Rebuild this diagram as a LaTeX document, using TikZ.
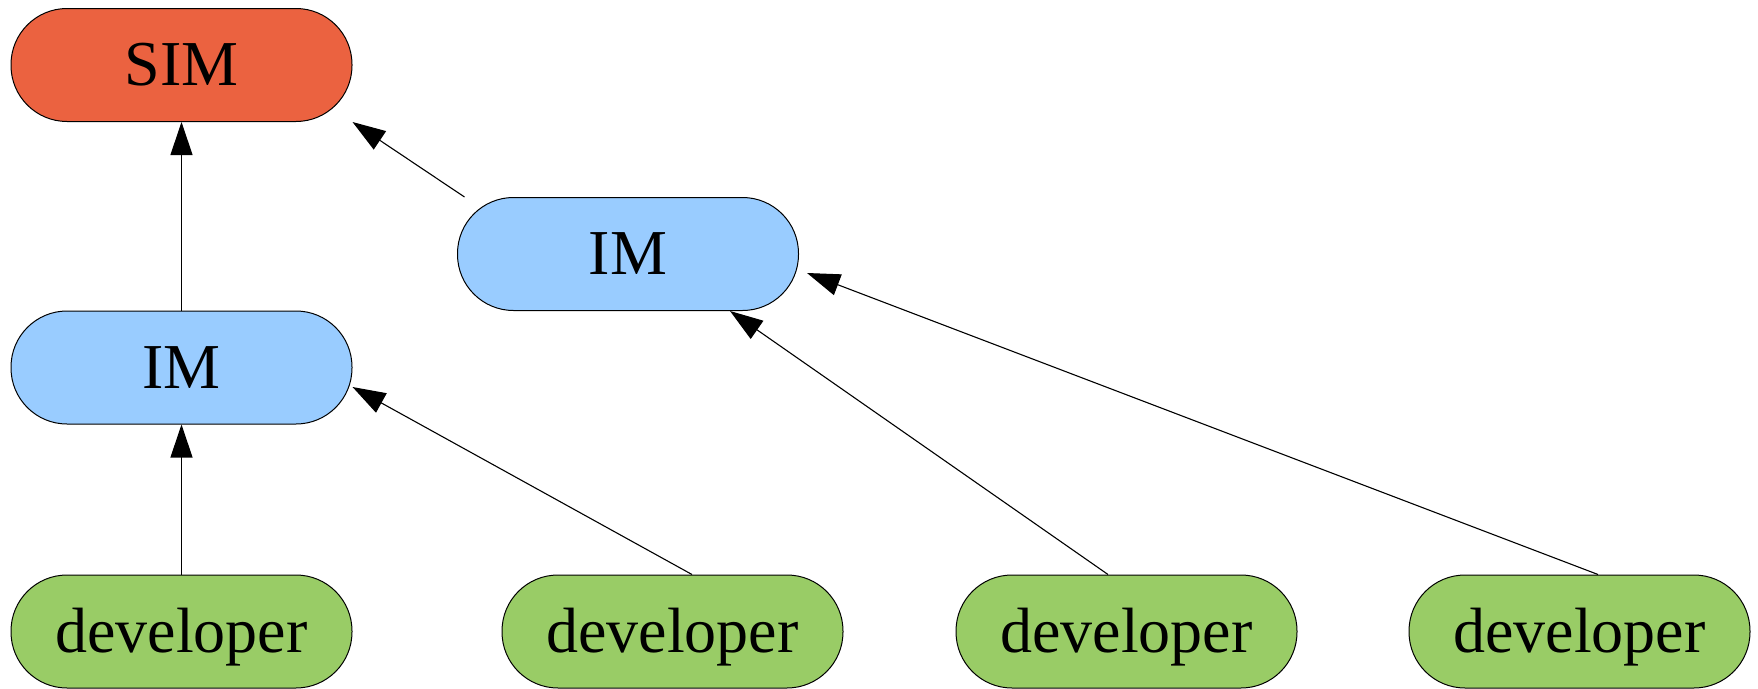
\documentclass[tikz,border=0pt]{standalone}
\usepackage{fontspec}
\setmainfont{Liberation Serif}
\usetikzlibrary{arrows.meta}
\definecolor{simred}{HTML}{EB6240}
\definecolor{imblue}{HTML}{99CCFF}
\definecolor{devgreen}{HTML}{99CC66}
\begin{document}
\begin{tikzpicture}[x=1pt,y=-1pt,
  pill/.style={draw=black,line width=1pt,rounded corners=56pt,minimum width=341pt,minimum height=113pt,
    inner sep=0pt,text height=55pt,text depth=14pt,font=\fontsize{64}{70}\selectfont},
  simnode/.style={pill,fill=simred},
  imnode/.style={pill,fill=imblue},
  devnode/.style={pill,fill=devgreen},
  edge/.style={draw=black,line width=1.1pt,-{Triangle[length=33pt,width=22pt]}}]
\useasboundingbox (0,0) rectangle (1758,688);
\node[simnode] (sim) at (181.5,65) {SIM};
\node[imnode] (iml) at (181.5,367.5) {IM};
\node[imnode] (imr) at (628,254) {IM};
\node[devnode] (d1) at (181.5,631.5) {developer};
\node[devnode] (d2) at (672.5,631.5) {developer};
\node[devnode] (d3) at (1126.5,631.5) {developer};
\node[devnode] (d4) at (1579.5,631.5) {developer};
\draw[edge] (iml.north) -- (sim.south);
\draw[edge] ([xshift=7.5pt]imr.north west) -- (sim.south east);
\draw[edge] (d1.north) -- (iml.south);
\draw[edge] ([xshift=19.5pt]d2.north) -- ([yshift=-19.5pt]iml.east);
\draw[edge] ([xshift=-18.5pt]d3.north) -- ([xshift=102pt]imr.south);
\draw[edge] ([xshift=18.5pt]d4.north) -- ([xshift=8pt,yshift=-19pt]imr.east);
\end{tikzpicture}
\end{document}
